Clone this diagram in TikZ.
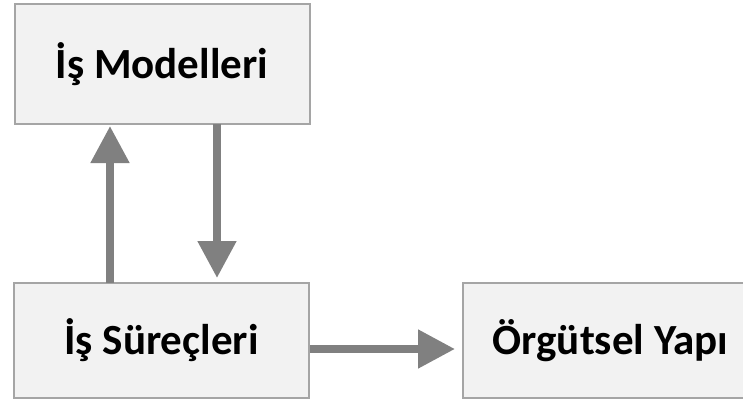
\documentclass[tikz,border=0pt]{standalone}
\usepackage{fontspec}
\setmainfont{Carlito}
\usetikzlibrary{arrows.meta}
\definecolor{boxfill}{HTML}{F2F2F2}
\definecolor{boxline}{HTML}{A5A5A5}
\definecolor{arrowgray}{HTML}{808080}
\tikzset{
  blk/.style={draw=boxline, line width=2pt, fill=boxfill, inner sep=0pt,
    minimum width=295pt, font=\fontsize{43}{43}\selectfont\bfseries, text=black},
  conn/.style={draw=arrowgray, line width=8pt, -{Triangle[length=37pt,width=37pt]}}
}
\begin{document}
\begin{tikzpicture}[x=1pt,y=-1pt]
\useasboundingbox (0,0) rectangle (743,401);
\begin{scope}
\clip (0,0) rectangle (743,401);
\node[blk, minimum height=120pt] (mod) at (162,64) {İş Modelleri};
\node[blk, minimum height=115pt] (sur) at (161.5,340.5) {İş Süreçleri};
\node[blk, minimum height=115pt] (org) at (610.5,340.5) {Örgütsel Yapı};
\end{scope}
\coordinate (upbot) at (110,283);
\coordinate (uptop) at (110,126);
\coordinate (dntop) at (217,124);
\coordinate (dnbot) at (217,278);
\draw[conn] (upbot) -- (uptop);
\draw[conn] (dntop) -- (dnbot);
\draw[conn] (sur.east |- 0,349) -- (455,349) coordinate (htip);
\end{tikzpicture}
\end{document}
